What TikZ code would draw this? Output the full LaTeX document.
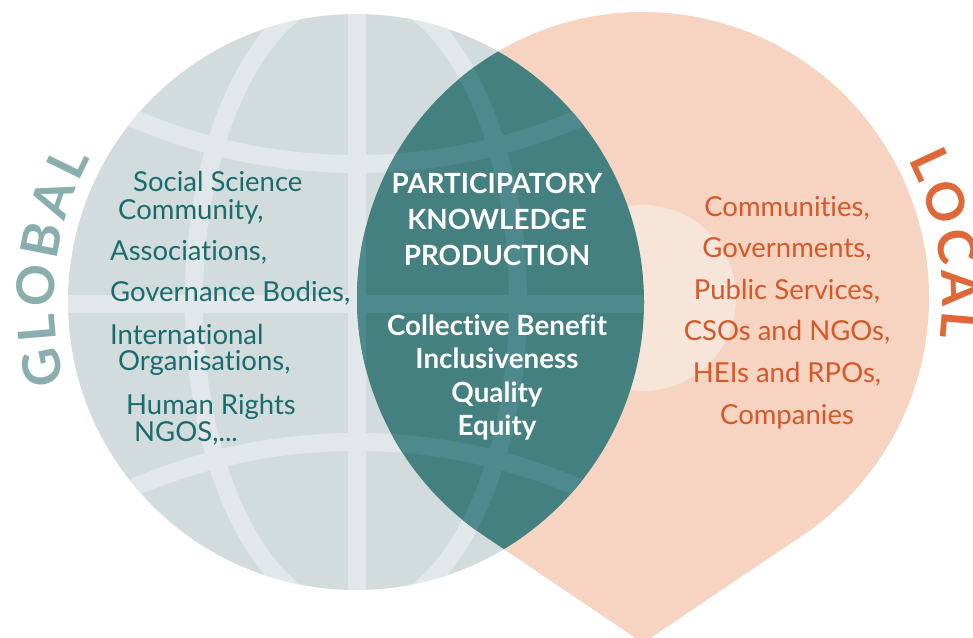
\documentclass[tikz,border=0pt]{standalone}
\usepackage{fontspec}
\setmainfont{Lato}[Ligatures=NoCommon]
\usetikzlibrary{decorations.text,calc}
\definecolor{globefill}{HTML}{D3DCDD}
\definecolor{globeline}{HTML}{E2E8EA}
\definecolor{lensfill}{HTML}{458081}
\definecolor{lensline}{HTML}{4D898D}
\definecolor{pinfill}{HTML}{F6D4C1}
\definecolor{pininner}{HTML}{F8E5DA}
\definecolor{globaltext}{HTML}{1A6C6C}
\definecolor{globaltitle}{HTML}{8AAEAE}
\definecolor{localtitle}{HTML}{E06838}
\definecolor{localtext}{HTML}{D65828}
\newcommand\myGlobeLines[1]{%
  \draw[line width=18pt,#1] (356.5,0) -- (356.5,637);
  \draw[line width=18pt,#1] (0,333) -- (973,333);
  \draw[line width=18pt,#1] (356,335) ellipse[x radius=162,y radius=313];
  \draw[line width=18pt,#1] (356,1036) circle[radius=563];
  \draw[line width=18pt,#1] (356,-368) circle[radius=563];
}
\tikzset{
  lefttxt/.style={inner sep=0pt,anchor=base west,text=globaltext,font=\fontsize{27.5}{30}\selectfont},
  righttxt/.style={inner sep=0pt,anchor=base,text=localtext,font=\fontsize{27.5}{30}\selectfont},
  centertxt/.style={inner sep=0pt,anchor=base,text=white,font=\fontsize{27.8}{30}\selectfont\bfseries},
}
\begin{document}
\begin{tikzpicture}[x=1pt,y=1pt]
\useasboundingbox (0,0) rectangle (973,637);
\clip (0,0) rectangle (973,637);
\coordinate (gc) at (356,335);
\coordinate (pc) at (643,339);
\coordinate (tip) at (643,-6);
% globe
\fill[globefill] (gc) circle[radius=288];
\begin{scope}
  \clip (gc) circle[radius=288];
  \myGlobeLines{globeline}
\end{scope}
% pin
\fill[pinfill] (tip) -- ($(pc)+(-56:286)$) arc[start angle=-56,end angle=236,radius=286] -- cycle;
\fill[pininner] (pc) circle[radius=93];
% lens
\begin{scope}
  \clip (gc) circle[radius=288];
  \fill[lensfill] (tip) -- ($(pc)+(-56:286)$) arc[start angle=-56,end angle=236,radius=286] -- cycle;
  \clip (tip) -- ($(pc)+(-56:286)$) arc[start angle=-56,end angle=236,radius=286] -- cycle;
  \myGlobeLines{lensline}
\end{scope}
% curved titles
\path[decorate,decoration={text along path,text color=globaltitle,
  text={|\fontsize{52}{52}\selectfont\bfseries|GLOBAL},text align=fit to path}]
  ($(gc)+(195.5:302)$) arc[start angle=195.5,end angle=151.5,radius=302];
\path[decorate,decoration={text along path,text color=localtitle,
  text={|\fontsize{52}{52}\selectfont\bfseries|LOCAL},text align=fit to path}]
  ($(pc)+(27.5:299)$) arc[start angle=27.5,end angle=-7.5,radius=299];
% left texts
\node[lefttxt] (g1) at (133,445) {Social Science};
\node[lefttxt] (g2) at (118,417) {Community,};
\node[lefttxt] (g3) at (110,376) {Associations,};
\node[lefttxt] (g4) at (110,335) {Governance Bodies,};
\node[lefttxt] (g5) at (110,292) {International};
\node[lefttxt] (g6) at (118,266) {Organisations,};
\node[lefttxt] (g7) at (126,222) {Human Rights};
\node[lefttxt] (g8) at (134,195) {NGOS,...};
% center texts
\node[centertxt] (c1) at (497,443) {PARTICIPATORY};
\node[centertxt] (c2) at (497,407) {KNOWLEDGE};
\node[centertxt] (c3) at (497,371) {PRODUCTION};
\node[centertxt] (c4) at (497,301) {Collective Benefit};
\node[centertxt] (c5) at (497,268.7) {Inclusiveness};
\node[centertxt] (c6) at (497,234.3) {Quality};
\node[centertxt] (c7) at (497,201) {Equity};
% right texts
\node[righttxt] (l1) at (787,420) {Communities,};
\node[righttxt] (l2) at (787,379) {Governments,};
\node[righttxt] (l3) at (787,337) {Public Services,};
\node[righttxt] (l4) at (787,296) {CSOs and NGOs,};
\node[righttxt] (l5) at (787,254) {HEIs and RPOs,};
\node[righttxt] (l6) at (787,212) {Companies};
\end{tikzpicture}
\end{document}
